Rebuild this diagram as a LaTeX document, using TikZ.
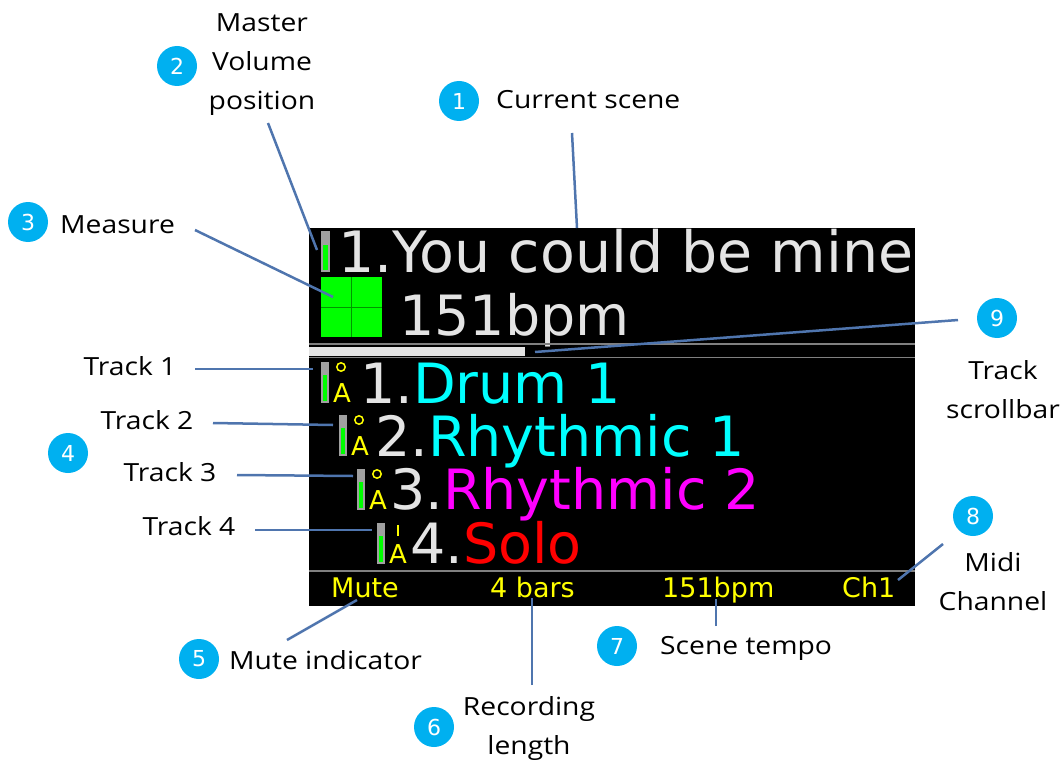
\documentclass[tikz,border=0pt]{standalone}
\usepackage{fontspec}
\setmainfont{DejaVu Sans}
\newfontfamily\labfont[FakeStretch=1.13]{Open Sans}
\definecolor{scrtxt}{RGB}{228,228,228}
\definecolor{scrgray}{RGB}{160,160,160}
\definecolor{linegray}{RGB}{128,128,128}
\definecolor{lgreen}{RGB}{0,255,0}
\definecolor{dgreen}{RGB}{0,150,0}
\definecolor{ycol}{RGB}{255,255,0}
\definecolor{cyantxt}{RGB}{0,255,255}
\definecolor{magtxt}{RGB}{255,0,255}
\definecolor{redtxt}{RGB}{255,0,0}
\definecolor{callblue}{RGB}{79,117,174}
\definecolor{badge}{RGB}{0,176,240}
\tikzset{
  callout/.style={draw=callblue, line width=2.5pt},
  badgenode/.style={circle, fill=badge, text=white, minimum size=40pt, inner sep=0pt, font=\fontsize{22}{22}\selectfont},
  labnode/.style={inner sep=0pt, text=black, font=\labfont\fontsize{25}{39}\selectfont, align=center},
  bigtxt/.style={anchor=base west, inner sep=0pt, font=\fontsize{55.5}{60}\selectfont},
  smalltxt/.style={anchor=base west, inner sep=0pt, text=ycol, font=\fontsize{27}{30}\selectfont},
  atxt/.style={anchor=base west, inner sep=0pt, text=ycol, font=\fontsize{26}{26}\selectfont},
}
\begin{document}
\begin{tikzpicture}[x=1pt,y=-1pt]
\useasboundingbox (0,0) rectangle (1064,762);
% screen
\fill[black] (309,228) rectangle (915,606);
% master volume
\fill[scrgray] (321,231) rectangle (330,272);
\fill[lgreen] (323,245) rectangle (328,270);
\node[bigtxt, text=scrtxt, font=\fontsize{57}{60}\selectfont] (scene) at (338,272) {1.You could be mine};
% measure square
\fill[lgreen] (321,277) rectangle (382,337);
\draw[dgreen, line width=0.8pt] (351.5,277) -- (351.5,337) (321,307) -- (382,307);
\node[bigtxt, text=scrtxt] (bpm) at (399,335) {151bpm};
% scrollbar
\draw[linegray, line width=1.5pt] (309,344) -- (915,344);
\fill[scrtxt] (309,346.5) rectangle (525,355.5);
\draw[linegray, line width=1.5pt] (309,357.5) -- (915,357.5);
% tracks
\foreach \dx/\dy in {0/0,18/53,36/107,56/161}{
  \fill[scrgray] (321+\dx,362+\dy) rectangle (328.5+\dx,403+\dy);
  \fill[lgreen] (323+\dx,375+\dy) rectangle (327+\dx,401+\dy);
  \node[atxt] at (333+\dx,402+\dy) {A};
}
\foreach \dx/\dy in {0/0,18/53,36/107}{
  \draw[ycol, line width=1.5pt] (341+\dx,367+\dy) circle (4.2);
}
\draw[ycol, line width=2pt] (398,525) -- (398,536);
\node[bigtxt, text=scrtxt] (tr1) at (360,403) {1.\textcolor{cyantxt}{Drum 1}};
\node[bigtxt, text=scrtxt] (tr2) at (375,456) {2.\textcolor{cyantxt}{Rhythmic 1}};
\node[bigtxt, text=scrtxt] (tr3) at (390,509) {3.\textcolor{magtxt}{Rhythmic 2}};
\node[bigtxt, text=scrtxt] (tr4) at (410,563) {4.\textcolor{redtxt}{Solo}};
% bottom bar
\draw[linegray, line width=1.5pt] (309,571) -- (915,571);
\node[smalltxt] (mute) at (331,597) {Mute};
\node[smalltxt] (bars) at (490,597) {4 bars};
\node[smalltxt] (tempo) at (662,597) {151bpm};
\node[smalltxt] (chan) at (842,597) {Ch1};
% badges
\node[badgenode] (b1) at (459,101) {1};
\node[badgenode] (b2) at (177,66) {2};
\node[badgenode] (b3) at (28,222) {3};
\node[badgenode] (b4) at (68,453) {4};
\node[badgenode] (b5) at (199,659) {5};
\node[badgenode] (b6) at (434,727) {6};
\node[badgenode] (b7) at (617,646) {7};
\node[badgenode] (b8) at (973,516) {8};
\node[badgenode] (b9) at (997,318) {9};
% labels
\node[labnode, anchor=west] (L1) at (496,100) {Current scene};
\node[labnode] (L2) at (262,65) {Master\\Volume\\position};
\node[labnode, anchor=west] (L3) at (60,225) {Measure};
\node[labnode] (T1) at (130,366) {Track 1};
\node[labnode] (T2) at (147,420) {Track 2};
\node[labnode] (T3) at (170,472) {Track 3};
\node[labnode] (T4) at (189,526) {Track 4};
\node[labnode, anchor=west] (L5) at (229,660) {Mute indicator};
\node[labnode] (L6) at (529,728) {Recording\\length};
\node[labnode, anchor=west] (L7) at (660,648) {Scene tempo};
\node[labnode] (L8) at (993,582) {Midi\\Channel};
\node[labnode] (L9) at (1003,390) {Track\\scrollbar};
% callout lines
\coordinate (c1a) at (572,133); \coordinate (c1b) at (577,228);
\coordinate (c2a) at (268,123); \coordinate (c2b) at (317,250);
\coordinate (c3a) at (195,230); \coordinate (c3b) at (333,297);
\coordinate (t1a) at (195,369); \coordinate (t1b) at (313,369);
\coordinate (t2a) at (213,423); \coordinate (t2b) at (333,425);
\coordinate (t3a) at (237,475); \coordinate (t3b) at (353,476);
\coordinate (t4a) at (255,530); \coordinate (t4b) at (372,530);
\coordinate (c5a) at (287,640); \coordinate (c5b) at (357,600);
\coordinate (c6a) at (532,685); \coordinate (c6b) at (532,598);
\coordinate (c7a) at (716,626); \coordinate (c7b) at (716,599);
\coordinate (c8a) at (943,544); \coordinate (c8b) at (898,580);
\coordinate (c9a) at (958,320); \coordinate (c9b) at (535,352);
\foreach \a/\b in {c1a/c1b,c2a/c2b,c3a/c3b,t1a/t1b,t2a/t2b,t3a/t3b,t4a/t4b,c5a/c5b,c6a/c6b,c7a/c7b,c8a/c8b,c9a/c9b}
  \draw[callout] (\a) -- (\b);
\end{tikzpicture}
\end{document}
